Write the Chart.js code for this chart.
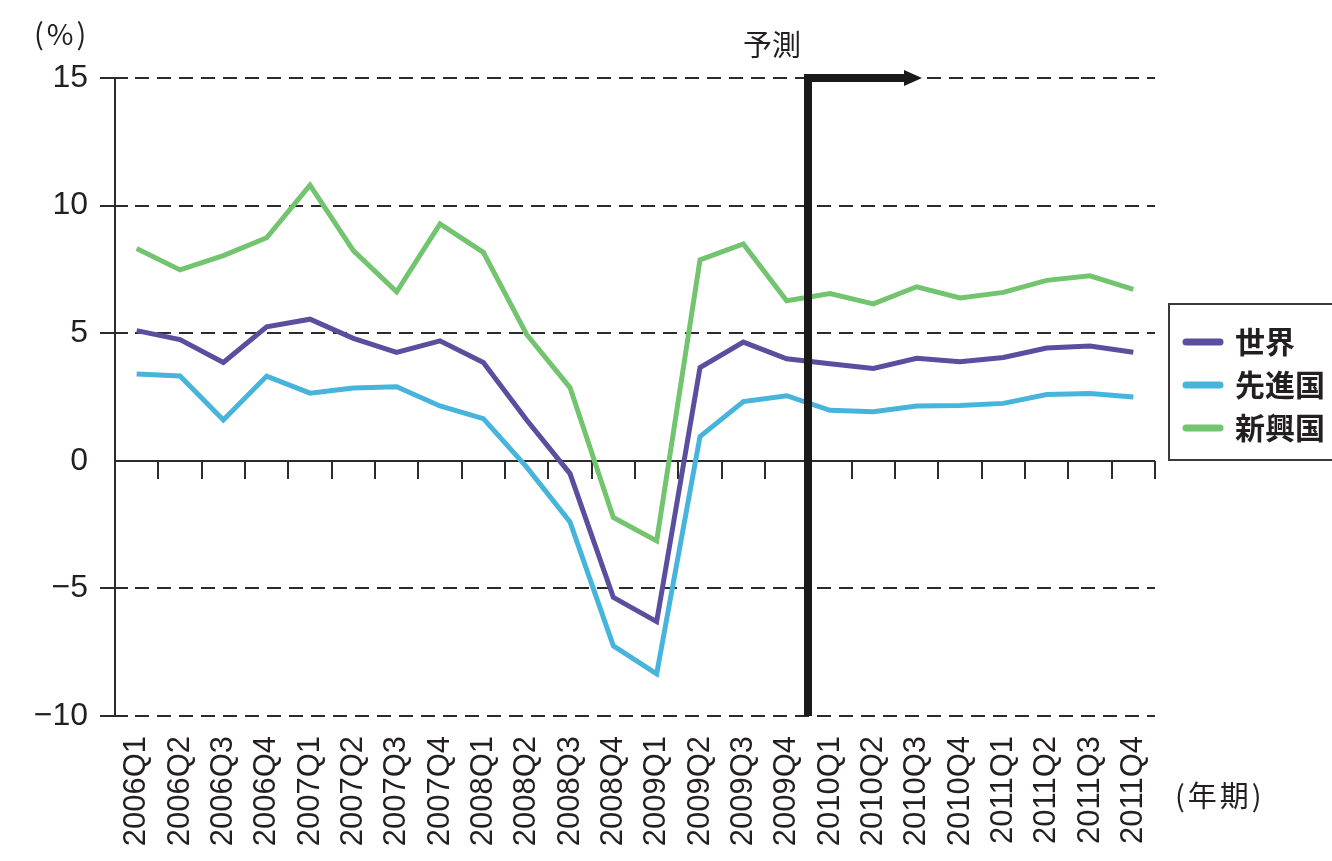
<!DOCTYPE html>
<html lang="ja">
<head>
<meta charset="UTF-8">
<title>世界・先進国・新興国の成長率</title>
<script src="https://cdn.jsdelivr.net/npm/chart.js"></script>
<style>
    body, html { margin: 0; padding: 0; background: #fff; }
    .wrap { position: relative; width: 1332px; height: 861px; }
</style>
</head>
<body>
<div class="wrap"><canvas id="growthChart" width="1332" height="861"></canvas></div>
<script>
    // 四半期ラベル
    const quarters = ['2006Q1','2006Q2','2006Q3','2006Q4','2007Q1','2007Q2','2007Q3','2007Q4',
                      '2008Q1','2008Q2','2008Q3','2008Q4','2009Q1','2009Q2','2009Q3','2009Q4',
                      '2010Q1','2010Q2','2010Q3','2010Q4','2011Q1','2011Q2','2011Q3','2011Q4'];
    // 世界
    const world = [5.1, 4.75, 3.85, 5.25, 5.55, 4.8, 4.25, 4.7, 3.85, 1.6, -0.5, -5.35, -6.3, 3.65, 4.65, 4.0,
                   3.8, 3.62, 4.02, 3.88, 4.05, 4.42, 4.5, 4.25];
    // 先進国
    const advanced = [3.4, 3.32, 1.6, 3.32, 2.65, 2.85, 2.9, 2.15, 1.65, -0.25, -2.4, -7.25, -8.35, 0.95, 2.32, 2.55,
                      1.98, 1.92, 2.15, 2.17, 2.25, 2.6, 2.64, 2.5];
    // 新興国
    const emerging = [8.32, 7.48, 8.04, 8.74, 10.8, 8.24, 6.62, 9.28, 8.17, 4.95, 2.87, -2.22, -3.14, 7.87, 8.5, 6.27,
                      6.55, 6.15, 6.82, 6.38, 6.6, 7.07, 7.25, 6.72];
    const yTicks = [-10, -5, 0, 5, 10, 15];
    const forecastStart = '2010Q1';

    const seriesNames = ['世界', '先進国', '新興国'];
    const seriesColors = ['#5a4e9f', '#47b4dc', '#72c56e'];

    const txtColor = '#231f20';
    const latin = "'Liberation Sans', Arial, sans-serif";
    const cjk = "'Noto Sans CJK JP', sans-serif";

    const deco = {
        id: 'deco',
        beforeDatasetsDraw(chart) {
            const ctx = chart.ctx;
            const a = chart.chartArea;
            const y = chart.scales.y;
            ctx.save();
            ctx.strokeStyle = '#2b2b2b';
            ctx.lineWidth = 2;
            // 横の破線と目盛
            yTicks.forEach(v => {
                const py = Math.round(y.getPixelForValue(v));
                if (v === 0) return;
                ctx.setLineDash([]);
                ctx.beginPath();
                ctx.moveTo(a.left - 15, py);
                ctx.lineTo(a.left + 13, py);
                ctx.stroke();
                ctx.setLineDash([14, 8]);
                ctx.beginPath();
                ctx.moveTo(a.left + 20, py);
                ctx.lineTo(a.right, py);
                ctx.stroke();
            });
            ctx.setLineDash([]);
            // 縦軸
            ctx.beginPath();
            ctx.moveTo(a.left, a.top);
            ctx.lineTo(a.left, a.bottom);
            ctx.stroke();
            // ゼロ線と区切り目盛
            const zy = Math.round(y.getPixelForValue(0));
            ctx.beginPath();
            ctx.moveTo(a.left, zy);
            ctx.lineTo(a.right, zy);
            ctx.stroke();
            const step = (a.right - a.left) / quarters.length;
            for (let k = 1; k <= quarters.length; k++) {
                const px = Math.round(a.left + step * k);
                ctx.beginPath();
                ctx.moveTo(px, zy);
                ctx.lineTo(px, zy + 18);
                ctx.stroke();
            }
            ctx.restore();
        },
        afterDatasetsDraw(chart) {
            const ctx = chart.ctx;
            const a = chart.chartArea;
            const x = chart.scales.x;
            const step = (a.right - a.left) / quarters.length;
            const fx = Math.round(x.getPixelForValue(quarters.indexOf(forecastStart)) - step / 2);
            ctx.save();
            // 予測の矢印
            ctx.strokeStyle = '#1a1a1a';
            ctx.fillStyle = '#1a1a1a';
            ctx.lineWidth = 8;
            ctx.lineJoin = 'miter';
            ctx.beginPath();
            ctx.moveTo(fx, a.bottom);
            ctx.lineTo(fx, a.top);
            ctx.lineTo(fx + 100, a.top);
            ctx.stroke();
            ctx.beginPath();
            ctx.moveTo(fx + 114, a.top);
            ctx.lineTo(fx + 96, a.top - 8);
            ctx.lineTo(fx + 96, a.top + 8);
            ctx.closePath();
            ctx.fill();

            ctx.fillStyle = txtColor;
            ctx.textBaseline = 'middle';
            ctx.font = '29px ' + cjk;
            ctx.textAlign = 'left';
            ctx.fillText('予測', 743, 45);
            ctx.letterSpacing = '3px';
            ctx.fillText('(%)', 34, 34);
            ctx.fillText('(年期)', 1175, 796);
            ctx.letterSpacing = '0px';

            // 凡例
            ctx.lineWidth = 2;
            ctx.strokeStyle = '#3a3a3a';
            ctx.strokeRect(1169, 304, 200, 156);
            ctx.lineCap = 'round';
            seriesNames.forEach((n, i) => {
                const ly = 342 + i * 43;
                ctx.strokeStyle = seriesColors[i];
                ctx.lineWidth = 7;
                ctx.beginPath();
                ctx.moveTo(1186, ly);
                ctx.lineTo(1220, ly);
                ctx.stroke();
                ctx.fillStyle = txtColor;
                ctx.font = 'bold 30px ' + cjk;
                ctx.fillText(n, 1235, ly);
            });
            ctx.restore();
        }
    };

    const mkSet = (label, data, color) => ({
        label: label,
        data: data,
        borderColor: color,
        backgroundColor: color,
        borderWidth: 5,
        pointRadius: 0,
        tension: 0,
        fill: false
    });

    new Chart(document.getElementById('growthChart').getContext('2d'), {
        type: 'line',
        data: {
            labels: quarters,
            datasets: [
                mkSet(seriesNames[0], world, seriesColors[0]),
                mkSet(seriesNames[1], advanced, seriesColors[1]),
                mkSet(seriesNames[2], emerging, seriesColors[2])
            ]
        },
        options: {
            responsive: false,
            animation: false,
            layout: { padding: { top: 78, right: 177, bottom: 0, left: 0 } },
            plugins: { legend: { display: false }, tooltip: { enabled: false } },
            scales: {
                x: {
                    offset: true,
                    grid: { display: false, drawTicks: false },
                    border: { display: false },
                    ticks: {
                        autoSkip: false, maxRotation: 90, minRotation: 90, padding: 20,
                        color: txtColor, font: { family: latin, size: 31 }
                    },
                    afterFit: s => { s.height = 145; }
                },
                y: {
                    min: -10, max: 15,
                    grid: { display: false, drawTicks: false },
                    border: { display: false },
                    ticks: {
                        stepSize: 5, padding: 27, color: txtColor,
                        font: { family: latin, size: 32 },
                        callback: v => v < 0 ? '\u2212' + Math.abs(v) : v
                    },
                    afterFit: s => { s.width = 115; }
                }
            }
        },
        plugins: [deco]
    });
</script>
</body>
</html>
